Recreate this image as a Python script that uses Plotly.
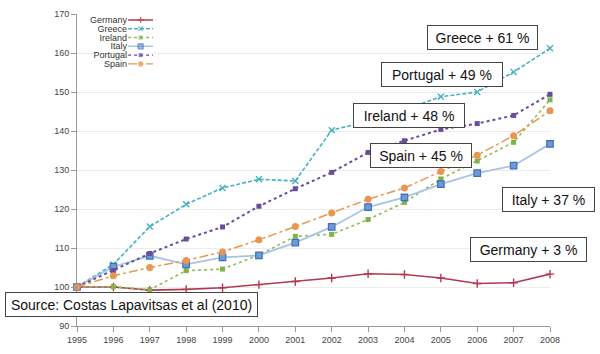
import plotly.graph_objects as go

years = list(range(1995, 2009))
countries = ["Germany", "Greece", "Ireland", "Italy", "Portugal", "Spain"]

germany  = [100, 100.0, 99.2, 99.4, 99.8, 100.6, 101.4, 102.3, 103.4, 103.2, 102.3, 100.9, 101.1, 103.3]
greece   = [100, 105.8, 115.5, 121.2, 125.4, 127.6, 127.2, 140.2, 142.5, 145.5, 148.8, 150.0, 155.1, 161.2]
ireland  = [100, 100.1, 99.3, 104.2, 104.6, 108.2, 113.0, 113.5, 117.3, 121.7, 127.7, 132.3, 137.1, 148.0]
italy    = [100, 105.2, 108.0, 105.8, 107.6, 108.1, 111.4, 115.4, 120.5, 123.0, 126.4, 129.2, 131.1, 136.7]
portugal = [100, 104.2, 108.6, 112.3, 115.4, 120.7, 125.2, 129.4, 134.5, 137.5, 140.4, 141.9, 144.0, 149.4]
spain    = [100, 102.9, 105.0, 106.8, 109.0, 112.1, 115.5, 119.0, 122.5, 125.4, 129.6, 133.8, 138.8, 145.2]
series = [germany, greece, ireland, italy, portugal, spain]

labels = ["Greece + 61 %", "Portugal + 49 %", "Ireland + 48 %", "Spain + 45 %",
          "Italy + 37 %", "Germany + 3 %"]
label_x = [2006.15, 2005.04, 2004.13, 2004.45, 2007.95, 2007.4]
label_y = [163.95, 154.4, 143.9, 133.8, 122.45, 109.6]
label_w = [109, 120, 110, 100, 91, 115]
source_text = "Source: Costas Lapavitsas et al (2010)"

styles = {
    "Germany":  dict(line=dict(color="#b23a52", width=1.6, dash="solid"),
                     marker=dict(symbol="cross-thin", size=6, line=dict(color="#b23a52", width=1.4), color="#b23a52")),
    "Greece":   dict(line=dict(color="#45b1c2", width=1.6, dash="4px,2px"),
                     marker=dict(symbol="x-thin", size=6, line=dict(color="#45b1c2", width=1.4), color="#45b1c2")),
    "Ireland":  dict(line=dict(color="#8bbf55", width=1.6, dash="dot"),
                     marker=dict(symbol="square", size=5, color="#7fb347", line=dict(width=0))),
    "Italy":    dict(line=dict(color="#a9c3e3", width=1.8, dash="solid"),
                     marker=dict(symbol="square", size=6.5, color="#6f9ad4", line=dict(color="#3e6fb8", width=1.2))),
    "Portugal": dict(line=dict(color="#6a4c9c", width=2, dash="dot"),
                     marker=dict(symbol="square", size=5, color="#6a4c9c", line=dict(width=0))),
    "Spain":    dict(line=dict(color="#e99650", width=1.5, dash="dashdot"),
                     marker=dict(symbol="circle", size=7, color="#e99650", line=dict(width=0))),
}

fig = go.Figure()
for name, vals in zip(countries, series):
    st = styles[name]
    fig.add_trace(go.Scatter(x=years, y=vals, mode="lines+markers", name=name,
                             line=st["line"], marker=st["marker"], cliponaxis=False,
                             showlegend=False))

# custom compact legend on an inset axis (labels right-aligned, symbol on the right)
for name in countries:
    st = styles[name]
    m = dict(st["marker"])
    size = m["size"]
    m["size"] = [0, max(size - 1.5, 4), 0]
    ln = dict(st["line"])
    ln["width"] = min(ln["width"], 1.4)
    fig.add_trace(go.Scatter(x=[0, 1, 2], y=[name] * 3, mode="lines+markers",
                             line=ln, marker=m, xaxis="x2", yaxis="y2",
                             showlegend=False, hoverinfo="skip", cliponaxis=False))

tickfont = dict(family="Liberation Sans, Arial, sans-serif", size=9, color="#444")
fig.update_layout(
    width=600, height=354,
    margin=dict(l=77, r=50, t=9, b=24),
    paper_bgcolor="white", plot_bgcolor="white",
    showlegend=False,
    xaxis=dict(range=[1995, 2008], tickmode="array", tickvals=years, ticktext=[str(y) for y in years],
               showgrid=False, zeroline=False, showline=True, linecolor="#9a9a9a", linewidth=1,
               ticks="outside", ticklen=5, tickcolor="#9a9a9a", tickfont=tickfont),
    yaxis=dict(range=[90, 170], dtick=10, showgrid=True, gridcolor="#ececec", gridwidth=1,
               zeroline=False, showline=True, linecolor="#9a9a9a", linewidth=1,
               ticks="outside", ticklen=5, tickcolor="#9a9a9a", tickfont=tickfont),
    xaxis2=dict(domain=[0.108, 0.161], range=[0, 2], visible=False, anchor="y2"),
    yaxis2=dict(domain=[0.826, 0.995], anchor="x2", type="category",
                categoryorder="array", categoryarray=countries[::-1],
                tickmode="array", tickvals=countries, ticktext=countries,
                range=[-0.5, 5.5], showgrid=False, zeroline=False, showline=False, ticks="",
                tickfont=dict(family="Liberation Sans, Arial, sans-serif", size=9, color="#333")),
    shapes=[dict(type="rect", xref="paper", yref="paper", x0=0.01, x1=0.17, y0=0.82, y1=0.994,
                 fillcolor="white", line=dict(width=0), layer="between")],
)

annfont = dict(family="Liberation Sans, Arial, sans-serif", size=14, color="#111")
for t, x, y, w in zip(labels, label_x, label_y, label_w):
    fig.add_annotation(x=x, y=y, xref="x", yref="y", text=t, showarrow=False,
                       xanchor="center", yanchor="middle", width=w, height=23,
                       bgcolor="white", bordercolor="#444", borderwidth=1, borderpad=0,
                       font=annfont)
fig.add_annotation(x=1996.5, y=95.45, xref="x", yref="y", text=source_text, showarrow=False,
                   xanchor="center", yanchor="middle", width=251, height=23,
                   bgcolor="white", bordercolor="#444", borderwidth=1, borderpad=0,
                   font=annfont)

fig.write_html("out.html")
